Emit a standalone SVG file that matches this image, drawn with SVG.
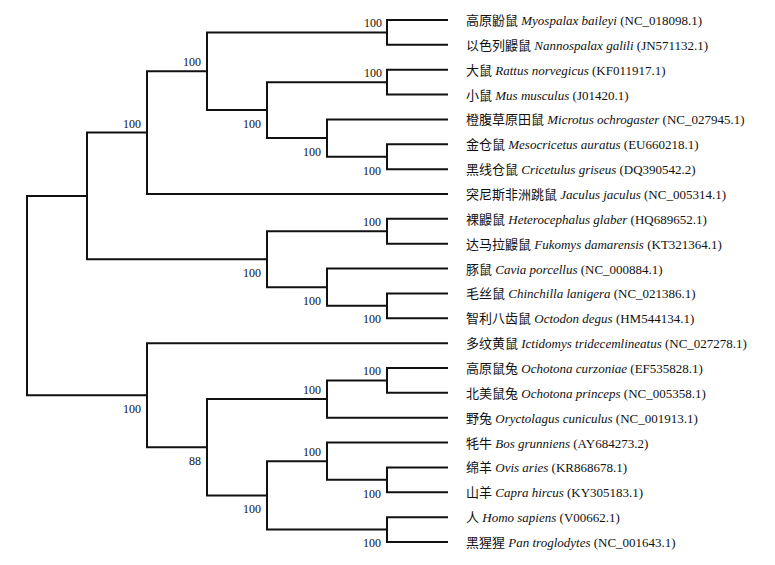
<svg xmlns="http://www.w3.org/2000/svg" width="775" height="565" viewBox="0 0 775 565">
<style>
.br{fill:none;stroke:#111;stroke-width:2;stroke-linecap:square;stroke-linejoin:miter}
.bs{font-family:"Liberation Serif","Times New Roman",serif;font-size:12px;fill:#111;text-anchor:end}
.lf{font-family:"Liberation Serif","Times New Roman","Noto Sans CJK SC",serif;font-size:13px;fill:#111}
.it{font-style:italic}
</style>
<rect width="775" height="565" fill="#fff"/>
<g id="connectors">
<path class="br" d="M87,195.9 H27 V395.2 H147"/>
<path class="br" d="M147,132.6 H87 V259.25 H267"/>
<path class="br" d="M207,71.27 H147 V194 H447"/>
<path class="br" d="M387,32.43 H207 V110.1 H267"/>
<path class="br" d="M447,20 H387 V44.86 H447"/>
<path class="br" d="M387,82.14 H267 V138.07 H327"/>
<path class="br" d="M447,69.71 H387 V94.57 H447"/>
<path class="br" d="M447,119.43 H327 V156.71 H387"/>
<path class="br" d="M447,144.29 H387 V169.14 H447"/>
<path class="br" d="M387,231.29 H267 V287.2 H327"/>
<path class="br" d="M447,218.86 H387 V243.71 H447"/>
<path class="br" d="M447,268.57 H327 V305.86 H387"/>
<path class="br" d="M447,293.43 H387 V318.29 H447"/>
<path class="br" d="M447,343.14 H147 V447.2 H207"/>
<path class="br" d="M327,399.07 H207 V495.4 H267"/>
<path class="br" d="M387,380.43 H327 V417.71 H447"/>
<path class="br" d="M447,368 H387 V392.86 H447"/>
<path class="br" d="M327,461.2 H267 V529.57 H387"/>
<path class="br" d="M447,442.57 H327 V479.86 H387"/>
<path class="br" d="M447,467.43 H387 V492.29 H447"/>
<path class="br" d="M447,517.14 H387 V542 H447"/>
</g>
<g id="bootstrap">
<g id="nF"><text class="bs" x="382" y="27.4">100</text></g>
<g id="nH"><text class="bs" x="382" y="77.1">100</text></g>
<g id="nE"><text class="bs" x="201" y="66.3">100</text></g>
<g id="nG"><text class="bs" x="261" y="128">100</text></g>
<g id="nI"><text class="bs" x="321" y="156">100</text></g>
<g id="nJ"><text class="bs" x="381" y="174.5">100</text></g>
<g id="nC"><text class="bs" x="141" y="127.6">100</text></g>
<g id="nD"><text class="bs" x="261" y="276.5">100</text></g>
<g id="nK"><text class="bs" x="381" y="226.3">100</text></g>
<g id="nL"><text class="bs" x="321" y="304.5">100</text></g>
<g id="nM"><text class="bs" x="381" y="323">100</text></g>
<g id="nB"><text class="bs" x="141" y="412.5">100</text></g>
<g id="nQ"><text class="bs" x="381" y="375.4">100</text></g>
<g id="nO"><text class="bs" x="321" y="394">100</text></g>
<g id="nN"><text class="bs" x="201" y="465">88</text></g>
<g id="nR"><text class="bs" x="321" y="456.2">100</text></g>
<g id="nT"><text class="bs" x="381" y="497.5">100</text></g>
<g id="nP"><text class="bs" x="261" y="513">100</text></g>
<g id="nS"><text class="bs" x="381" y="547">100</text></g>
</g>
<g id="leaves">
<g id="l0"><text class="lf" x="466" y="25">高原鼢鼠 <tspan class="it">Myospalax baileyi</tspan> (NC_018098.1)</text></g>
<g id="l1"><text class="lf" x="466" y="49.9">以色列鼹鼠 <tspan class="it">Nannospalax galili</tspan> (JN571132.1)</text></g>
<g id="l2"><text class="lf" x="466" y="74.7">大鼠 <tspan class="it">Rattus norvegicus</tspan> (KF011917.1)</text></g>
<g id="l3"><text class="lf" x="466" y="99.6">小鼠 <tspan class="it">Mus musculus</tspan> (J01420.1)</text></g>
<g id="l4"><text class="lf" x="466" y="124.4">橙腹草原田鼠 <tspan class="it">Microtus ochrogaster</tspan> (NC_027945.1)</text></g>
<g id="l5"><text class="lf" x="466" y="149.3">金仓鼠 <tspan class="it">Mesocricetus auratus</tspan> (EU660218.1)</text></g>
<g id="l6"><text class="lf" x="466" y="174.1">黑线仓鼠 <tspan class="it">Cricetulus griseus</tspan> (DQ390542.2)</text></g>
<g id="l7"><text class="lf" x="466" y="199">突尼斯非洲跳鼠 <tspan class="it">Jaculus jaculus</tspan> (NC_005314.1)</text></g>
<g id="l8"><text class="lf" x="466" y="223.9">裸鼹鼠 <tspan class="it">Heterocephalus glaber</tspan> (HQ689652.1)</text></g>
<g id="l9"><text class="lf" x="466" y="248.7">达马拉鼹鼠 <tspan class="it">Fukomys damarensis</tspan> (KT321364.1)</text></g>
<g id="l10"><text class="lf" x="466" y="273.6">豚鼠 <tspan class="it">Cavia porcellus</tspan> (NC_000884.1)</text></g>
<g id="l11"><text class="lf" x="466" y="298.4">毛丝鼠 <tspan class="it">Chinchilla lanigera</tspan> (NC_021386.1)</text></g>
<g id="l12"><text class="lf" x="466" y="323.3">智利八齿鼠 <tspan class="it">Octodon degus</tspan> (HM544134.1)</text></g>
<g id="l13"><text class="lf" x="466" y="348.1">多纹黄鼠 <tspan class="it">Ictidomys tridecemlineatus</tspan> (NC_027278.1)</text></g>
<g id="l14"><text class="lf" x="466" y="373">高原鼠兔 <tspan class="it">Ochotona curzoniae</tspan> (EF535828.1)</text></g>
<g id="l15"><text class="lf" x="466" y="397.9">北美鼠兔 <tspan class="it">Ochotona princeps</tspan> (NC_005358.1)</text></g>
<g id="l16"><text class="lf" x="466" y="422.7">野兔 <tspan class="it">Oryctolagus cuniculus</tspan> (NC_001913.1)</text></g>
<g id="l17"><text class="lf" x="466" y="447.6">牦牛 <tspan class="it">Bos grunniens</tspan> (AY684273.2)</text></g>
<g id="l18"><text class="lf" x="466" y="472.4">绵羊 <tspan class="it">Ovis aries</tspan> (KR868678.1)</text></g>
<g id="l19"><text class="lf" x="466" y="497.3">山羊 <tspan class="it">Capra hircus</tspan> (KY305183.1)</text></g>
<g id="l20"><text class="lf" x="466" y="522.1">人 <tspan class="it">Homo sapiens</tspan> (V00662.1)</text></g>
<g id="l21"><text class="lf" x="466" y="547">黑猩猩 <tspan class="it">Pan troglodytes</tspan> (NC_001643.1)</text></g>
</g>
</svg>
